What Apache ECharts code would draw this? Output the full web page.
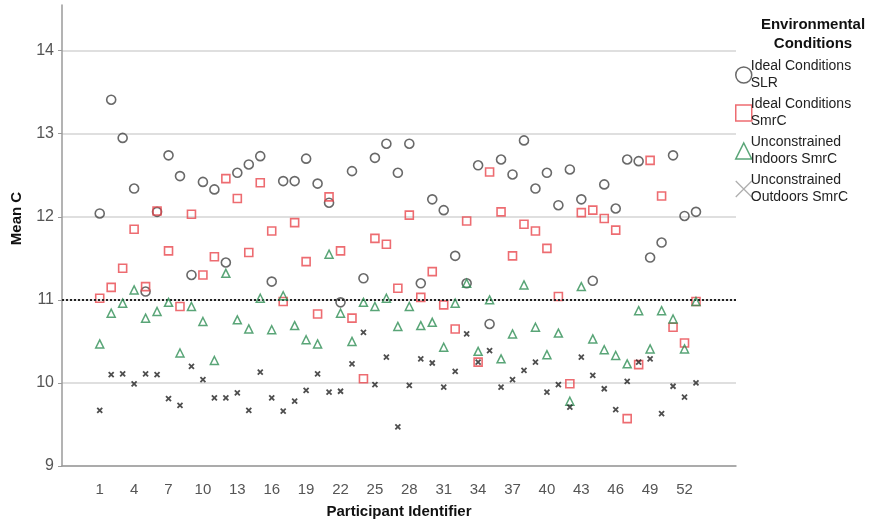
<!DOCTYPE html>
<html>
<head>
<meta charset="utf-8">
<script src="https://cdn.jsdelivr.net/npm/echarts@6/dist/echarts.min.js"></script>
<style>
  html, body { margin: 0; padding: 0; background: #fff; }
  #chart { width: 880px; height: 526px; }
</style>
</head>
<body>
<div id="chart"></div>
<script>
// Participant identifiers and mean C per environmental condition
const participants = [1,2,3,4,5,6,7,8,9,10,11,12,13,14,15,16,17,18,19,20,21,22,23,24,25,26,27,28,29,30,31,32,33,34,35,36,37,38,39,40,41,42,43,44,45,46,47,48,49,50,51,52,53];

const idealSLR = [12.04,13.41,12.95,12.34,11.10,12.06,12.74,12.49,11.30,12.42,12.33,11.45,12.53,12.63,12.73,11.22,12.43,12.43,12.70,12.40,12.17,10.97,12.55,11.26,12.71,12.88,12.53,12.88,11.20,12.21,12.08,11.53,11.20,12.62,10.71,12.69,12.51,12.92,12.34,12.53,12.14,12.57,12.21,11.23,12.39,12.10,12.69,12.67,11.51,11.69,12.74,12.01,12.06];

const idealSmrC = [11.02,11.15,11.38,11.85,11.16,12.07,11.59,10.92,12.03,11.30,11.52,12.46,12.22,11.57,12.41,11.83,10.98,11.93,11.46,10.83,12.24,11.59,10.78,10.05,11.74,11.67,11.14,12.02,11.03,11.34,10.94,10.65,11.95,10.25,12.54,12.06,11.53,11.91,11.83,11.62,11.04,9.99,12.05,12.08,11.98,11.84,9.57,10.22,12.68,12.25,10.67,10.48,10.98];

const indoorsSmrC = [10.47,10.84,10.96,11.12,10.78,10.86,10.97,10.36,10.92,10.74,10.27,11.32,10.76,10.65,11.02,10.64,11.05,10.69,10.52,10.47,11.55,10.84,10.50,10.97,10.92,11.02,10.68,10.92,10.69,10.73,10.43,10.96,11.20,10.38,11.00,10.29,10.59,11.18,10.67,10.34,10.60,9.78,11.16,10.53,10.40,10.33,10.23,10.87,10.41,10.87,10.77,10.41,10.98];

const outdoorsSmrC = [9.67,10.10,10.11,9.99,10.11,10.10,9.81,9.73,10.20,10.04,9.82,9.82,9.88,9.67,10.13,9.82,9.66,9.78,9.91,10.11,9.89,9.90,10.23,10.61,9.98,10.31,9.47,9.97,10.29,10.24,9.95,10.14,10.59,10.25,10.39,9.95,10.04,10.15,10.25,9.89,9.98,9.71,10.31,10.09,9.93,9.68,10.02,10.25,10.29,9.63,9.96,9.83,10.00];

const xTickLabels = [1,4,7,10,13,16,19,22,25,28,31,34,37,40,43,46,49,52];
const yTicks = [9,10,11,12,13,14];
const referenceLevel = 11;

const seriesNames = [
  'Ideal Conditions\nSLR',
  'Ideal Conditions\nSmrC',
  'Unconstrained\nIndoors SmrC',
  'Unconstrained\nOutdoors SmrC'
];

const pairs = vals => participants.map((p, i) => [p, vals[i]]);
const crossPath = 'path://M0,0L10,10M10,0L0,10';
const font = 'Liberation Sans, Arial, sans-serif';

const chart = echarts.init(document.getElementById('chart'), null, { renderer: 'canvas' });

chart.setOption({
  animation: false,
  backgroundColor: '#ffffff',
  textStyle: { fontFamily: font },
  title: {
    text: 'Environmental\nConditions',
    left: 808,
    top: 10,
    textAlign: 'center',
    textStyle: { fontFamily: font, fontSize: 15, fontWeight: 'bold', color: '#111', lineHeight: 19 }
  },
  legend: {
    orient: 'vertical',
    left: 730,
    top: 53,
    itemWidth: 16,
    itemHeight: 16,
    itemGap: 4,
    selectedMode: false,
    textStyle: { fontFamily: font, fontSize: 14, color: '#222', lineHeight: 17, padding: [0, 0, 0, -6] },
    data: [
      { name: seriesNames[0], icon: 'circle', itemStyle: { color: 'rgba(0,0,0,0)', borderColor: '#444', borderWidth: 1.5 } },
      { name: seriesNames[1], icon: 'rect', itemStyle: { color: 'rgba(0,0,0,0)', borderColor: '#e9474e', borderWidth: 1.5 } },
      { name: seriesNames[2], icon: 'triangle', itemStyle: { color: 'rgba(0,0,0,0)', borderColor: '#2f8f55', borderWidth: 1.5 } },
      { name: seriesNames[3], icon: crossPath, itemStyle: { color: 'rgba(0,0,0,0)', borderColor: '#999', borderWidth: 1.2 } }
    ]
  },
  grid: { left: 62, right: 144, top: 5, bottom: 60, containLabel: false, outerBoundsMode: 'none' },
  xAxis: {
    type: 'value',
    min: -2.29,
    max: 56.49,
    name: 'Participant Identifier',
    nameLocation: 'middle',
    nameGap: 38,
    nameTextStyle: { fontFamily: font, fontSize: 15, fontWeight: 'bold', color: '#111' },
    axisLine: { show: true, onZero: false, lineStyle: { color: '#9a9a9a', width: 1.5 } },
    axisTick: { show: false },
    splitLine: { show: false },
    axisLabel: {
      customValues: xTickLabels,
      fontFamily: font, fontSize: 15, color: '#555', margin: 16
    }
  },
  yAxis: {
    type: 'value',
    min: 9,
    max: 14.55,
    interval: 1,
    name: 'Mean C',
    nameLocation: 'middle',
    nameGap: 38,
    nameTextStyle: { fontFamily: font, fontSize: 15, fontWeight: 'bold', color: '#111', padding: [0, 0, 0, 34] },
    axisLine: { show: true, onZero: false, lineStyle: { color: '#9a9a9a', width: 1.5 } },
    axisTick: { show: true, length: 4, lineStyle: { color: '#9a9a9a' }, customValues: yTicks },
    splitLine: { show: true, lineStyle: { color: '#d4d4d4', width: 1.5 } },
    axisLabel: { customValues: yTicks, fontFamily: font, fontSize: 16, color: '#555', margin: 8 }
  },
  series: [
    {
      name: seriesNames[0], type: 'scatter', symbol: 'circle', symbolSize: 9,
      itemStyle: { color: 'rgba(0,0,0,0)', borderColor: '#444', borderWidth: 1.6 },
      data: pairs(idealSLR),
      markLine: {
        silent: true, symbol: 'none', label: { show: false },
        lineStyle: { color: '#222', type: [2, 2], width: 2 },
        data: [{ yAxis: referenceLevel }]
      },
      z: 3
    },
    {
      name: seriesNames[1], type: 'scatter', symbol: 'rect', symbolSize: 8,
      itemStyle: { color: 'rgba(0,0,0,0)', borderColor: '#e9474e', borderWidth: 1.6 },
      data: pairs(idealSmrC), z: 4
    },
    {
      name: seriesNames[2], type: 'scatter', symbol: 'triangle', symbolSize: 8,
      itemStyle: { color: 'rgba(0,0,0,0)', borderColor: '#2f8f55', borderWidth: 1.5 },
      data: pairs(indoorsSmrC), z: 5
    },
    {
      name: seriesNames[3], type: 'scatter', symbol: crossPath, symbolSize: 5,
      itemStyle: { color: 'rgba(0,0,0,0)', borderColor: '#222', borderWidth: 1.8 },
      data: pairs(outdoorsSmrC), z: 6
    }
  ]
});
</script>
</body>
</html>
